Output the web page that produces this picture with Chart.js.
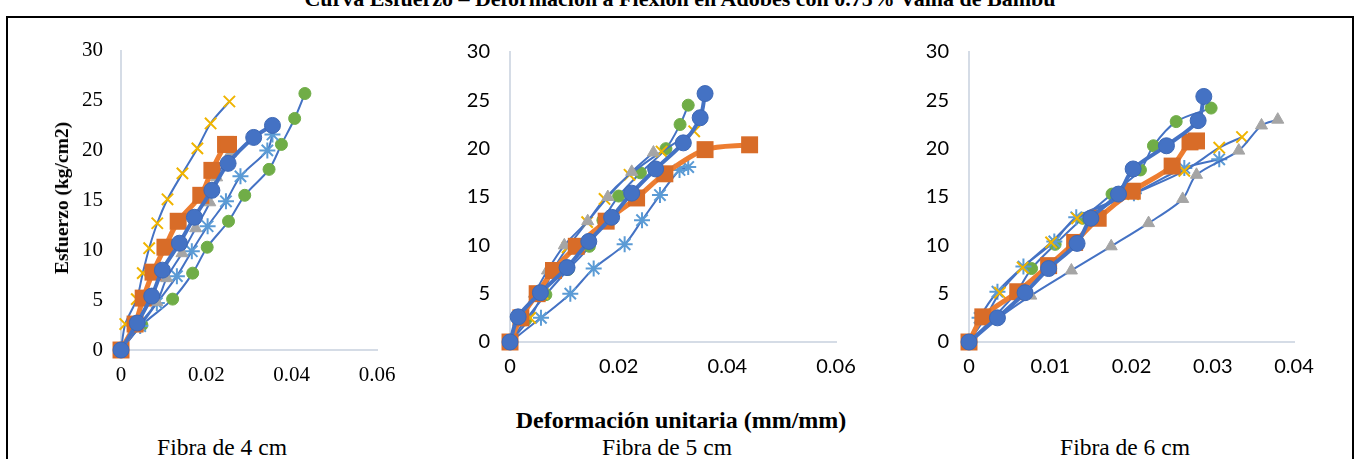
<!DOCTYPE html>
<html>
<head>
<meta charset="utf-8">
<script src="https://cdn.jsdelivr.net/npm/chart.js@4.4.1/dist/chart.umd.min.js"></script>
<style>
  body { margin: 0; background: #fff; width: 1360px; height: 459px; overflow: hidden; position: relative; }
  .frame { position: absolute; left: 6px; top: 16px; width: 1344px; height: 460px; border: 2px solid #000; border-bottom: none; }
  canvas { position: absolute; }
  .txt { position: absolute; font-family: "Liberation Serif", serif; color: #000; white-space: nowrap; transform: translate(-50%, -50%); }
  .title { position: absolute; left: 0; width: 1360px; top: -12px; text-align: center; font: bold 22px/22px "Liberation Serif", serif; }
  .mark { position: absolute; top: 16px; height: 2px; background: #000; }
</style>
</head>
<body>
<div class="title">Curva Esfuerzo – Deformación a Flexión en Adobes con 0.75% Vaina de Bambú</div>
<div class="frame"></div>
<div class="mark" style="left:428px;width:19px"></div>
<div class="mark" style="left:880px;width:16px"></div>

<canvas id="c4" width="395" height="380" style="left:20px;top:20px"></canvas>
<canvas id="c5" width="440" height="370" style="left:430px;top:20px"></canvas>
<canvas id="c6" width="440" height="370" style="left:890px;top:20px"></canvas>

<div class="txt" style="left:62px;top:198px;font-weight:bold;font-size:19.5px;transform:translate(-50%,-50%) rotate(-90deg)">Esfuerzo (kg/cm2)</div>
<div class="txt" style="left:681px;top:420px;font-weight:bold;font-size:24px">Deformación unitaria (mm/mm)</div>
<div class="txt" style="left:222px;top:447px;font-size:23.5px">Fibra de 4 cm</div>
<div class="txt" style="left:667px;top:447px;font-size:23.5px">Fibra de 5 cm</div>
<div class="txt" style="left:1125px;top:447px;font-size:23.5px">Fibra de 6 cm</div>

<script>
// deformación (mm/mm), esfuerzo (kg/cm2)
// Fibra de 4 cm
const f4Circle = [[0,0],[0.0038,2.7],[0.0072,5.4],[0.0097,8.0],[0.0137,10.7],[0.0172,13.3],[0.0213,16.0],[0.0251,18.7],[0.0311,21.3],[0.0355,22.5]];
const f4Square = [[0,0],[0.0033,2.6],[0.0052,5.2],[0.0075,7.8],[0.0103,10.3],[0.0134,12.9],[0.0187,15.5],[0.0213,18.0],[0.0245,20.6],[0.0252,20.6]];
const f4Triangle = [[0,0],[0.004,2.4],[0.0084,4.8],[0.0107,7.2],[0.0143,9.7],[0.0175,12.2],[0.0208,14.8],[0.0224,17.3],[0.0256,19.7]];
const f4Cross = [[0,0],[0.001,2.6],[0.0037,5.1],[0.0051,7.7],[0.0066,10.2],[0.0085,12.7],[0.0109,15.1],[0.0144,17.7],[0.0179,20.2],[0.021,22.7],[0.0254,24.9]];
const f4Star = [[0,0],[0.0045,2.4],[0.0084,4.7],[0.0131,7.4],[0.0166,9.9],[0.0203,12.4],[0.0246,14.9],[0.028,17.4],[0.0343,20.0],[0.0355,21.6]];
const f4Dot = [[0,0],[0.0049,2.5],[0.0121,5.1],[0.0168,7.7],[0.0202,10.3],[0.0252,12.9],[0.029,15.5],[0.0347,18.1],[0.0376,20.6],[0.0407,23.2],[0.0431,25.7]];

// Fibra de 5 cm
const f5Circle = [[0,0],[0.0015,2.6],[0.0056,5.1],[0.0105,7.7],[0.0145,10.4],[0.0187,12.9],[0.0224,15.4],[0.0268,17.9],[0.0319,20.6],[0.035,23.2],[0.0359,25.7]];
const f5Square = [[0,0],[0.002,2.5],[0.005,5.0],[0.008,7.4],[0.0122,9.9],[0.0177,12.5],[0.0233,14.9],[0.0285,17.4],[0.0359,19.9],[0.0441,20.4]];
const f5Triangle = [[0,0],[0.002,2.5],[0.0045,5.0],[0.0069,7.4],[0.010,10.0],[0.0143,12.5],[0.018,15.0],[0.0224,17.6],[0.0264,19.6]];
const f5Cross = [[0,0],[0.0037,2.5],[0.006,5.0],[0.008,7.5],[0.0106,9.8],[0.0142,12.4],[0.0174,14.8],[0.022,17.3],[0.0279,19.7],[0.0339,21.8]];
const f5Star = [[0,0],[0.0057,2.5],[0.0111,5.0],[0.0154,7.6],[0.0211,10.1],[0.0243,12.6],[0.0276,15.2],[0.0312,17.8],[0.0328,18.1]];
const f5Dot = [[0,0],[0.0029,2.3],[0.0066,4.9],[0.0107,7.5],[0.0146,9.9],[0.0171,12.6],[0.02,15.1],[0.024,17.5],[0.0287,20.0],[0.0313,22.5],[0.0328,24.5]];

// Fibra de 6 cm
const f6Circle = [[0,0],[0.0035,2.5],[0.0069,5.1],[0.0098,7.6],[0.0133,10.2],[0.015,12.8],[0.0184,15.3],[0.0202,17.9],[0.0243,20.3],[0.0282,22.9],[0.0289,25.4]];
const f6Square = [[0,0],[0.0017,2.6],[0.006,5.2],[0.0098,7.9],[0.013,10.3],[0.0159,12.8],[0.0201,15.6],[0.025,18.2],[0.0272,20.7],[0.028,20.8]];
const f6Triangle = [[0,0],[0.0035,2.4],[0.0076,4.8],[0.0126,7.4],[0.0175,9.9],[0.0221,12.3],[0.0263,14.8],[0.028,17.3],[0.0332,19.8],[0.036,22.4],[0.038,23.0]];
const f6Cross = [[0,0],[0.002,2.5],[0.0038,5.1],[0.0066,7.7],[0.0101,10.3],[0.0133,12.8],[0.0202,15.3],[0.0265,17.7],[0.0308,20.1],[0.0336,21.2]];
const f6Star = [[0,0],[0.0013,2.5],[0.0035,5.2],[0.0067,7.8],[0.0105,10.4],[0.0132,12.9],[0.0203,15.4],[0.0265,18.0],[0.0308,18.9]];
const f6Dot = [[0,0],[0.003,2.5],[0.0058,5.1],[0.0077,7.6],[0.0106,10.1],[0.014,12.8],[0.0176,15.3],[0.0211,17.8],[0.0227,20.3],[0.0255,22.8],[0.0298,24.2]];

const yTicks = [0, 5, 10, 15, 20, 25, 30];

const BLUE = '#4472C4';
const toXY = (arr) => arr.map(([x, y]) => ({x, y}));

function seriesList(circle, square, triangle, cross, star, dot) {
    // first dataset is drawn on top in Chart.js
    return [
        {data: toXY(circle), borderColor: BLUE, borderWidth: 4, pointStyle: 'circle', pointRadius: 8,
         pointBackgroundColor: '#4472C4', pointBorderColor: '#3d68b5', pointBorderWidth: 1},
        {data: toXY(square), borderColor: '#ED7D31', borderWidth: 5, pointStyle: 'rect', pointRadius: 12,
         pointBackgroundColor: '#D86C28', pointBorderColor: '#D86C28', pointBorderWidth: 0},
        {data: toXY(triangle), borderColor: BLUE, borderWidth: 2, pointStyle: 'triangle', pointRadius: 7,
         pointBackgroundColor: '#A5A5A5', pointBorderColor: '#A5A5A5', pointBorderWidth: 1},
        {data: toXY(cross), borderColor: BLUE, borderWidth: 2, pointStyle: 'crossRot', pointRadius: 8,
         pointBackgroundColor: '#FFC000', pointBorderColor: '#F0B400', pointBorderWidth: 2},
        {data: toXY(star), borderColor: BLUE, borderWidth: 2, pointStyle: 'star', pointRadius: 8,
         pointBackgroundColor: '#5B9BD5', pointBorderColor: '#5B9BD5', pointBorderWidth: 2},
        {data: toXY(dot), borderColor: BLUE, borderWidth: 2, pointStyle: 'circle', pointRadius: 6,
         pointBackgroundColor: '#70AD47', pointBorderColor: '#70AD47', pointBorderWidth: 1},
    ].map((d) => Object.assign(d, {showLine: true, tension: 0.3, clip: false}));
}

function makePanel(id, datasets, xMax, xStep, font, yWidth, padRight, padTop, xHeight, yPad, xPad) {
    return new Chart(document.getElementById(id), {
        type: 'scatter',
        data: {datasets},
        options: {
            responsive: false,
            animation: false,
            layout: {padding: {left: 0, right: padRight, top: padTop, bottom: 0}},
            plugins: {legend: {display: false}, tooltip: {enabled: false}},
            scales: {
                x: {
                    type: 'linear', min: 0, max: xMax,
                    grid: {display: false, drawTicks: false},
                    border: {display: true, color: '#D5DCE6', width: 2},
                    ticks: {stepSize: xStep, color: '#000', font: font, padding: xPad, maxRotation: 0},
                    afterFit: (s) => { s.height = xHeight; }
                },
                y: {
                    type: 'linear', min: 0, max: 30,
                    grid: {display: false, drawTicks: false},
                    border: {display: true, color: '#D5DCE6', width: 2},
                    afterBuildTicks: (s) => { s.ticks = yTicks.map((v) => ({value: v})); },
                    ticks: {color: '#000', font: font, padding: yPad},
                    afterFit: (s) => { s.width = yWidth; }
                }
            }
        }
    });
}

const serif = {family: 'Liberation Serif', size: 21};
const sans = {family: 'Lato', size: 20};

makePanel('c4', seriesList(f4Circle, f4Square, f4Triangle, f4Cross, f4Star, f4Dot), 0.06, 0.02, serif, 101, 38, 17, 50, 18, 13);
makePanel('c5', seriesList(f5Circle, f5Square, f5Triangle, f5Cross, f5Star, f5Dot), 0.06, 0.02, sans, 80, 34, 16, 48, 20, 13);
makePanel('c6', seriesList(f6Circle, f6Square, f6Triangle, f6Cross, f6Star, f6Dot), 0.04, 0.01, sans, 79, 36, 16, 48, 20, 13);
</script>
</body>
</html>
